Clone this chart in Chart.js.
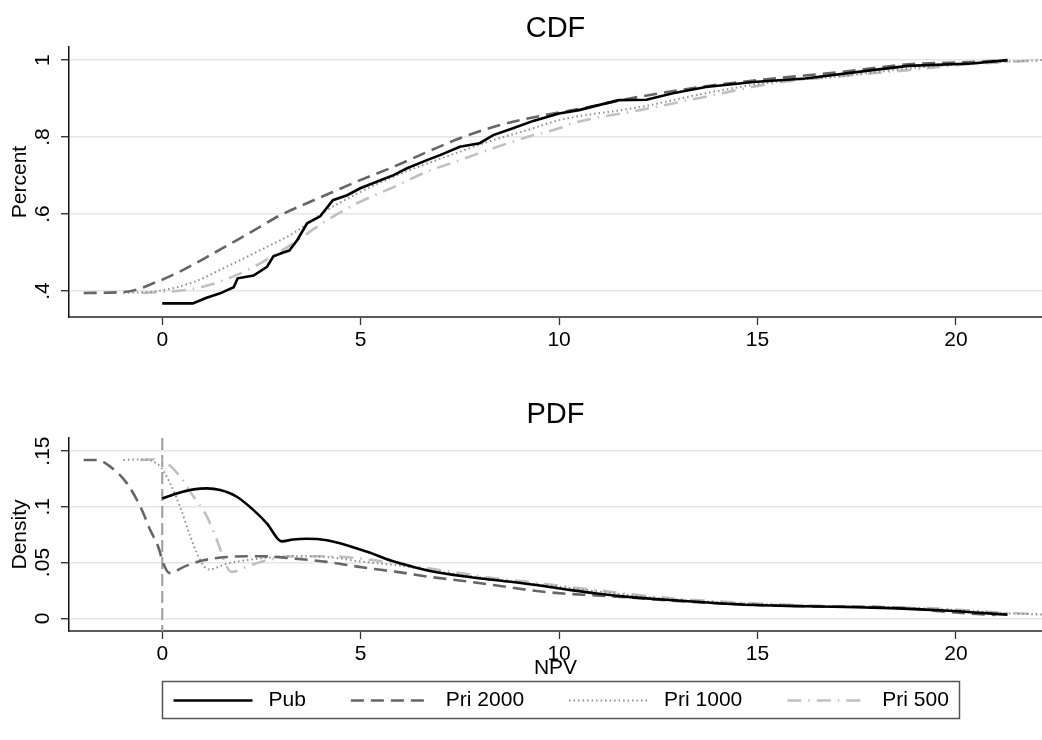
<!DOCTYPE html>
<html>
<head>
<meta charset="utf-8">
<title>CDF / PDF of NPV</title>
<script src="https://cdn.jsdelivr.net/npm/chart.js@4.4.1/dist/chart.umd.min.js"></script>
<style>
    html, body { margin: 0; padding: 0; background: #fff; }
    canvas { display: block; }
</style>
</head>
<body>
<canvas id="cdfChart" width="1042" height="370"></canvas>
<canvas id="pdfChart" width="1042" height="370"></canvas>
<script>
// Series and ticks
const seriesNames = ['Pub', 'Pri 2000', 'Pri 1000', 'Pri 500'];
const xTicks = [0, 5, 10, 15, 20];
const xTickLabels = ['0', '5', '10', '15', '20'];
const cdfTicks = [0.4, 0.6, 0.8, 1];
const cdfTickLabels = ['.4', '.6', '.8', '1'];
const pdfTicks = [0, 0.05, 0.1, 0.15];
const pdfTickLabels = ['0', '.05', '.1', '.15'];
const pdfXLine = 0;

// Axis ranges
const xMin = -2.35, xMax = 22.17;
const cdfMin = 0.3325, cdfMax = 1.034;
const pdfMin = -0.0114, pdfMax = 0.1617;

// CDF values
const cdfPubX = [0, 0.77, 1.1, 1.46, 1.8, 1.9, 2.3, 2.64, 2.8, 3.05, 3.2, 3.4, 3.65, 3.98, 4.3, 4.66, 4.99, 5.5, 5.83, 6.17, 6.67, 7.0, 7.5, 8.0, 8.34, 8.84, 9.35, 10.0, 10.5, 11.5, 12.2, 12.87, 13.7, 14.9, 16.2, 17.9, 18.8, 20.4, 21.3];
const cdfPubY = [0.368, 0.368, 0.382, 0.394, 0.41, 0.433, 0.44, 0.463, 0.49, 0.5, 0.505, 0.532, 0.576, 0.594, 0.636, 0.649, 0.667, 0.688, 0.701, 0.719, 0.74, 0.753, 0.775, 0.784, 0.805, 0.823, 0.842, 0.861, 0.87, 0.896, 0.897, 0.914, 0.93, 0.943, 0.952, 0.974, 0.985, 0.991, 1.0];
const cdfPri2000X = [-1.98, -0.9, -0.13, 0.53, 1.29, 1.96, 2.47, 2.9, 3.73, 4.4, 4.99, 5.83, 6.67, 7.5, 8.34, 9.2, 9.85, 10.35, 12.04, 13.7, 15.4, 17.1, 18.8, 20.4, 21.3];
const cdfPri2000Y = [0.395, 0.398, 0.424, 0.455, 0.498, 0.537, 0.567, 0.593, 0.632, 0.662, 0.688, 0.723, 0.761, 0.797, 0.826, 0.848, 0.861, 0.87, 0.905, 0.932, 0.952, 0.969, 0.989, 0.995, 1.0];
const cdfPri1000X = [-0.98, -0.1, 0.78, 1.62, 2.47, 3.3, 4.15, 4.99, 5.83, 6.67, 7.5, 8.34, 9.2, 10.0, 12.04, 13.7, 15.4, 17.1, 18.8, 20.4, 22.17];
const cdfPri1000Y = [0.395, 0.4, 0.423, 0.463, 0.506, 0.55, 0.61, 0.657, 0.697, 0.731, 0.762, 0.792, 0.818, 0.844, 0.878, 0.914, 0.943, 0.958, 0.978, 0.991, 1.0];
const cdfPri500X = [-0.5, 0.62, 1.2, 1.88, 2.47, 3.3, 4.15, 4.99, 5.83, 6.67, 7.5, 8.34, 9.2, 10.0, 10.35, 12.04, 13.7, 15.4, 17.1, 18.8, 20.4, 21.3, 22.17];
const cdfPri500Y = [0.395, 0.403, 0.416, 0.442, 0.472, 0.524, 0.584, 0.632, 0.67, 0.71, 0.74, 0.771, 0.8, 0.823, 0.836, 0.87, 0.905, 0.94, 0.958, 0.974, 0.99, 0.995, 1.0];

// PDF values
const pdfPubX = [0, 0.37, 0.79, 1.13, 1.46, 1.88, 2.3, 2.64, 3.01, 3.3, 3.64, 4.15, 4.65, 5.24, 5.74, 6.33, 6.75, 7.59, 8.43, 9.27, 10.1, 10.95, 11.8, 12.9, 14.56, 16.2, 17.9, 19.6, 21.3];
const pdfPubY = [0.1075, 0.112, 0.1156, 0.1165, 0.115, 0.109, 0.097, 0.085, 0.069, 0.0707, 0.0713, 0.07, 0.0656, 0.0587, 0.052, 0.046, 0.0425, 0.0377, 0.0341, 0.0305, 0.0263, 0.0222, 0.019, 0.0162, 0.0123, 0.0108, 0.0096, 0.0072, 0.0033];
const pdfPri2000X = [-1.98, -1.65, -1.31, -0.89, -0.55, -0.3, -0.1, 0.03, 0.18, 0.6, 1.04, 1.62, 2.47, 3.3, 4.15, 5.07, 5.91, 6.75, 7.59, 8.43, 9.27, 10.1, 10.95, 11.8, 12.9, 14.56, 16.2, 17.9, 18.8, 19.6, 20.4, 21.0];
const pdfPri2000Y = [0.142, 0.142, 0.136, 0.121, 0.1, 0.079, 0.064, 0.049, 0.0407, 0.047, 0.052, 0.055, 0.0557, 0.0536, 0.0506, 0.0455, 0.0416, 0.0371, 0.0335, 0.0294, 0.0252, 0.0222, 0.0205, 0.0185, 0.0156, 0.0126, 0.0108, 0.0102, 0.009, 0.0063, 0.0042, 0.003];
const pdfPri1000X = [-0.98, -0.52, -0.05, 0.2, 0.45, 0.71, 0.96, 1.17, 1.63, 2.47, 3.3, 4.15, 5.07, 5.91, 6.75, 8.43, 10.1, 11.8, 12.9, 14.56, 16.2, 17.9, 19.6, 21.3, 22.17];
const pdfPri1000Y = [0.142, 0.1425, 0.136, 0.121, 0.1, 0.073, 0.052, 0.0437, 0.049, 0.0536, 0.0557, 0.055, 0.0506, 0.0476, 0.0431, 0.0347, 0.028, 0.0207, 0.017, 0.0135, 0.0113, 0.01, 0.0082, 0.0045, 0.0034];
const pdfPri500X = [-0.55, -0.22, 0.12, 0.45, 0.79, 1.13, 1.38, 1.63, 1.75, 2.22, 2.64, 3.3, 4.15, 4.99, 5.91, 6.75, 7.59, 8.43, 9.27, 10.1, 10.95, 11.8, 12.9, 14.56, 16.2, 17.9, 19.6, 21.3, 22.17];
const pdfPri500Y = [0.142, 0.1425, 0.139, 0.127, 0.109, 0.091, 0.07, 0.046, 0.0416, 0.0476, 0.052, 0.0557, 0.0557, 0.0536, 0.049, 0.0446, 0.0401, 0.0356, 0.0326, 0.0287, 0.0252, 0.0216, 0.0177, 0.0141, 0.0117, 0.0102, 0.0087, 0.0048, 0.0036];

// Line look, one per series
const lineStyles = [
    { color: '#000000', width: 2.6, dash: [] },
    { color: '#666666', width: 2.6, dash: [13, 7] },
    { color: '#8f8f8f', width: 2, dash: [1.5, 3] },
    { color: '#c0c0c0', width: 2.6, dash: [14, 7, 1.5, 7] }
];

const fontFamily = '"Liberation Sans", Arial, Helvetica, sans-serif';
const textFont = { family: fontFamily, size: 21 };
Chart.defaults.font.family = fontFamily;
Chart.defaults.color = '#000';

function buildDatasets(xLists, yLists, smoothFirst) {
    return seriesNames.map((name, i) => ({
        label: name,
        data: xLists[i].map((x, j) => ({ x: x, y: yLists[i][j] })),
        borderColor: lineStyles[i].color,
        borderWidth: lineStyles[i].width,
        borderDash: lineStyles[i].dash,
        pointRadius: 0,
        fill: false,
        cubicInterpolationMode: (i > 0 || smoothFirst) ? 'monotone' : 'default',
        tension: 0
    }));
}

function panelOptions(cfg) {
    return {
        responsive: false,
        animation: false,
        devicePixelRatio: 1,
        layout: { padding: 0 },
        plugins: {
            legend: { display: false },
            tooltip: { enabled: false },
            title: {
                display: true,
                text: cfg.title,
                fullSize: false,
                color: '#000',
                font: { family: fontFamily, size: 29, weight: 'normal', lineHeight: 1.2 },
                padding: cfg.titlePadding
            }
        },
        scales: {
            x: {
                type: 'linear',
                min: xMin,
                max: xMax,
                afterBuildTicks: s => { s.ticks = xTicks.map(v => ({ value: v })); },
                afterFit: s => { s.height = cfg.xHeight; },
                ticks: {
                    callback: (v, i) => xTickLabels[i],
                    color: '#000',
                    font: textFont,
                    padding: 2.5,
                    maxRotation: 0,
                    autoSkip: false
                },
                grid: { drawOnChartArea: false, drawTicks: true, tickLength: 8, tickColor: '#333', tickWidth: 1.3 },
                border: { color: '#5a5a5a', width: 2 },
                title: cfg.xTitle
            },
            y: {
                type: 'linear',
                min: cfg.yMin,
                max: cfg.yMax,
                afterBuildTicks: s => { s.ticks = cfg.yTicks.map(v => ({ value: v })); },
                afterFit: s => { s.width = 69; },
                ticks: {
                    callback: (v, i) => cfg.yLabels[i],
                    color: '#000',
                    font: textFont,
                    minRotation: 90,
                    maxRotation: 90,
                    crossAlign: 'center',
                    padding: cfg.yPad
                },
                grid: { color: '#e6e6e6', lineWidth: 1.5, tickLength: 8, tickColor: '#222', tickWidth: 1.3 },
                border: { color: '#111', width: 1.5 },
                title: {
                    display: true,
                    text: cfg.yTitle,
                    color: '#000',
                    font: textFont,
                    padding: { top: 7.4, bottom: 0 }
                }
            }
        }
    };
}

// Dashed reference line at NPV = 0
const zeroLine = {
    id: 'zeroLine',
    beforeDatasetsDraw(chart) {
        const { ctx, chartArea, scales } = chart;
        const px = scales.x.getPixelForValue(pdfXLine);
        ctx.save();
        ctx.strokeStyle = '#9c9c9c';
        ctx.lineWidth = 2;
        ctx.setLineDash([12, 5]);
        ctx.beginPath();
        ctx.moveTo(px, chartArea.top);
        ctx.lineTo(px, chartArea.bottom);
        ctx.stroke();
        ctx.restore();
    }
};

// Framed legend below the NPV axis
const legendFrame = {
    id: 'legendFrame',
    afterDraw(chart) {
        const ctx = chart.ctx;
        const sets = chart.data.datasets;
        const keyWidth = 79, keyGap = 16, itemGap = 45, sidePad = 11;
        const top = 311, bottom = 348, centerX = 560.5;
        ctx.save();
        ctx.font = '21px ' + fontFamily;
        const textWidths = sets.map(d => ctx.measureText(d.label).width);
        let total = sidePad * 2 + itemGap * (sets.length - 1);
        textWidths.forEach(w => { total += keyWidth + keyGap + w; });
        const left = Math.round(centerX - total / 2) + 0.5;
        ctx.strokeStyle = '#555';
        ctx.lineWidth = 1.5;
        ctx.strokeRect(left, top + 0.5, Math.round(total), bottom - top);
        const midY = (top + bottom) / 2 + 1;
        let x = left + sidePad;
        sets.forEach((d, i) => {
            ctx.beginPath();
            ctx.strokeStyle = d.borderColor;
            ctx.lineWidth = d.borderWidth;
            ctx.setLineDash(d.borderDash);
            ctx.moveTo(x, midY);
            ctx.lineTo(x + keyWidth, midY);
            ctx.stroke();
            ctx.setLineDash([]);
            ctx.fillStyle = '#000';
            ctx.textBaseline = 'middle';
            ctx.textAlign = 'left';
            ctx.fillText(d.label, x + keyWidth + keyGap, midY);
            x += keyWidth + keyGap + textWidths[i] + itemGap;
        });
        ctx.restore();
    }
};

new Chart(document.getElementById('cdfChart').getContext('2d'), {
    type: 'line',
    data: {
        datasets: buildDatasets(
            [cdfPubX, cdfPri2000X, cdfPri1000X, cdfPri500X],
            [cdfPubY, cdfPri2000Y, cdfPri1000Y, cdfPri500Y],
            false)
    },
    options: panelOptions({
        title: 'CDF',
        titlePadding: { top: 11.6, bottom: 0.6 },
        xHeight: 53,
        xTitle: { display: false },
        yMin: cdfMin, yMax: cdfMax,
        yTicks: cdfTicks, yLabels: cdfTickLabels,
        yPad: 9.2,
        yTitle: 'Percent'
    })
});

new Chart(document.getElementById('pdfChart').getContext('2d'), {
    type: 'line',
    data: {
        datasets: buildDatasets(
            [pdfPubX, pdfPri2000X, pdfPri1000X, pdfPri500X],
            [pdfPubY, pdfPri2000Y, pdfPri1000Y, pdfPri500Y],
            true)
    },
    options: panelOptions({
        title: 'PDF',
        titlePadding: { top: 27.6, bottom: 5.6 },
        xHeight: 109,
        xTitle: {
            display: true,
            text: 'NPV',
            color: '#000',
            font: textFont,
            padding: { top: 0, bottom: 59 }
        },
        yMin: pdfMin, yMax: pdfMax,
        yTicks: pdfTicks, yLabels: pdfTickLabels,
        yPad: 3.4,
        yTitle: 'Density'
    }),
    plugins: [zeroLine, legendFrame]
});
</script>
</body>
</html>
